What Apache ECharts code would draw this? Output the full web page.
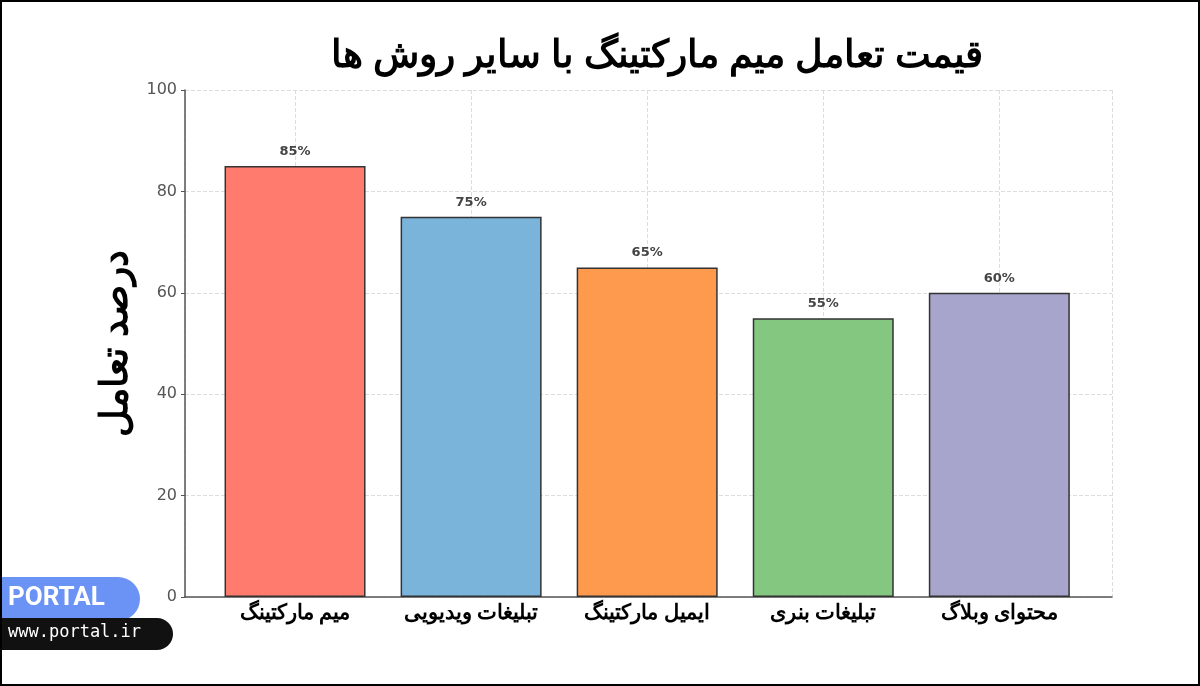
<!DOCTYPE html>
<html><head><meta charset="utf-8">
<script src="https://cdn.jsdelivr.net/npm/echarts@6/dist/echarts.min.js"></script>
<style>html,body{margin:0;padding:0;background:#fff}#c{width:1200px;height:686px;box-sizing:border-box;border:2px solid #000}</style>
</head><body><div id="c"></div>
<script>
const categories = ["میم مارکتینگ", "تبلیغات ویدیویی", "ایمیل مارکتینگ", "تبلیغات بنری", "محتوای وبلاگ"];
const values = [85, 75, 65, 55, 60];
const colors = ["#ff7b6e", "#7ab4da", "#fe9a4e", "#84c780", "#a8a5cc"];
const positions = [0, 1, 2, 3, 4];

const chart = echarts.init(document.getElementById("c"));
chart.setOption({
	animation: false,
	title: {
		text: "قیمت تعامل میم مارکتینگ با سایر روش ها",
		left: 650, top: 30, textAlign: "center",
		textStyle: { fontFamily: "Noto Sans", fontSize: 38, fontWeight: "bold", color: "#000" }
	},
	grid: { left: 183, right: 86, top: 88, bottom: 87 },
	xAxis: {
		type: "value", min: -0.625, max: 4.64,
		axisLine: { show: true, onZero: false, lineStyle: { color: "#555", width: 1.5 } },
		axisTick: { show: false },
		axisLabel: {
			customValues: positions,
			formatter: (v) => categories[Math.round(v)] || "",
			color: "#000", fontSize: 21, fontWeight: "bold", fontFamily: "Noto Sans", margin: 6
		},
		splitLine: { show: true, lineStyle: { color: "#ddd", type: "dashed" } },
		splitNumber: 5
	},
	yAxis: {
		type: "value", min: 0, max: 100, interval: 20,
		name: "درصد تعامل", nameLocation: "middle", nameGap: 50, nameRotate: 90,
		nameTextStyle: { fontFamily: "Noto Sans", fontSize: 38, fontWeight: "bold", color: "#000" },
		axisLine: { show: true, onZero: false, lineStyle: { color: "#555", width: 1.5 } },
		axisTick: { show: true, length: 4, lineStyle: { color: "#555" } },
		axisLabel: { color: "#555", fontSize: 16, fontFamily: "DejaVu Sans" },
		splitLine: { lineStyle: { color: "#ddd", type: "dashed" } }
	},
	series: [{
		type: "bar", barWidth: 141,
		data: values.map((v, i) => ({
			value: [positions[i], v],
			itemStyle: { color: colors[i], borderColor: "#333", borderWidth: 1.5 }
		})),
		label: {
			show: true, position: "top", distance: 8,
			formatter: (p) => p.value[1] + "%",
			color: "#444", fontWeight: "bold", fontSize: 13, fontFamily: "DejaVu Sans"
		}
	}],
	graphic: [
		{ type: "rect", left: 0, top: 575, shape: { width: 138, height: 44, r: [0, 22, 22, 0] }, style: { fill: "#6b93f5" } },
		{ type: "text", left: 6, top: 583, style: { text: "PORTAL", fill: "#fff", font: "bold 26px Roboto" } },
		{ type: "rect", left: 0, top: 616, shape: { width: 171, height: 32, r: [0, 16, 16, 0] }, style: { fill: "#111" } },
		{ type: "text", left: 6, top: 622, style: { text: "www.portal.ir", fill: "#fff", font: "17px DejaVu Sans Mono" } }
	]
});
</script></body></html>
